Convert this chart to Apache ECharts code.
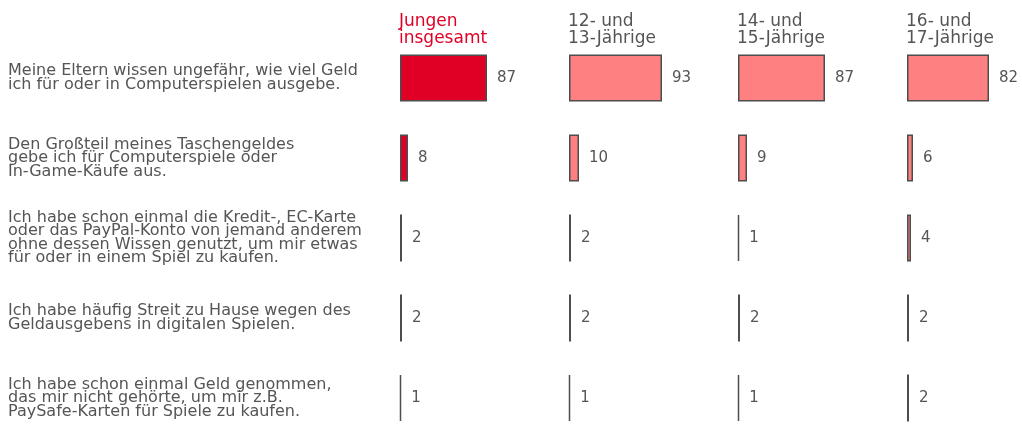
<!DOCTYPE html>
<html>
<head>
<meta charset="utf-8">
<script src="https://cdn.jsdelivr.net/npm/echarts@6/dist/echarts.min.js"></script>
<style>
  html, body { margin: 0; padding: 0; background: #fff; }
  #chart { width: 1022px; height: 426px; }
</style>
</head>
<body>
<div id="chart"></div>
<script>
// Statements (rows) and age groups (columns)
const statements = [
  'Meine Eltern wissen ungefähr, wie viel Geld\nich für oder in Computerspielen ausgebe.',
  'Den Großteil meines Taschengeldes\ngebe ich für Computerspiele oder\nIn-Game-Käufe aus.',
  'Ich habe schon einmal die Kredit-, EC-Karte\noder das PayPal-Konto von jemand anderem\nohne dessen Wissen genutzt, um mir etwas\nfür oder in einem Spiel zu kaufen.',
  'Ich habe häufig Streit zu Hause wegen des\nGeldausgebens in digitalen Spielen.',
  'Ich habe schon einmal Geld genommen,\ndas mir nicht gehörte, um mir z.B.\nPaySafe-Karten für Spiele zu kaufen.'
];
const groups = ['Jungen\ninsgesamt', '12- und\n13-Jährige', '14- und\n15-Jährige', '16- und\n17-Jährige'];

// Percent agreeing, per group
const jungenInsgesamt = [87, 8, 2, 2, 1];
const alter12bis13 = [93, 10, 2, 2, 1];
const alter14bis15 = [87, 9, 1, 2, 1];
const alter16bis17 = [82, 6, 4, 2, 2];
const groupValues = [jungenInsgesamt, alter12bis13, alter14bis15, alter16bis17];

const FONT = '"DejaVu Sans", Verdana, sans-serif';
const TEXT = '#555555';
const panelLeft = [400, 569, 738, 907];
const fills = ['#e00026', '#ff8080', '#ff8080', '#ff8080'];
const headColors = ['#e00026', TEXT, TEXT, TEXT];

const grids = [], xAxes = [], yAxes = [], series = [], titles = [];
groupValues.forEach((vals, i) => {
  grids.push({ left: panelLeft[i], top: 38, width: 100, height: 400, outerBoundsMode: 'none', containLabel: false });
  xAxes.push({ gridIndex: i, type: 'value', min: 0, max: 100, show: false });
  yAxes.push({
    gridIndex: i, type: 'category', data: statements, inverse: true,
    axisLine: { show: false }, axisTick: { show: false }, splitLine: { show: false },
    axisLabel: i === 0 ? {
      show: true, align: 'left', margin: 392,
      fontFamily: FONT, fontSize: 16, lineHeight: 13.5, color: TEXT
    } : { show: false }
  });
  series.push({
    type: 'bar', xAxisIndex: i, yAxisIndex: i, data: vals, barWidth: 47,
    itemStyle: { color: fills[i], borderColor: '#4d4d4d', borderWidth: 1.5 },
    label: { show: true, position: 'right', distance: 10, fontFamily: FONT, fontSize: 15, color: TEXT },
    silent: true
  });
  titles.push({
    text: groups[i], left: panelLeft[i] - 1, top: 13, padding: 0,
    textStyle: { fontFamily: FONT, fontSize: 17, lineHeight: 17, fontWeight: 'normal', color: headColors[i] }
  });
});

const chart = echarts.init(document.getElementById('chart'), null, { renderer: 'canvas' });
chart.setOption({
  animation: false,
  title: titles,
  grid: grids,
  xAxis: xAxes,
  yAxis: yAxes,
  series: series
});
</script>
</body>
</html>
